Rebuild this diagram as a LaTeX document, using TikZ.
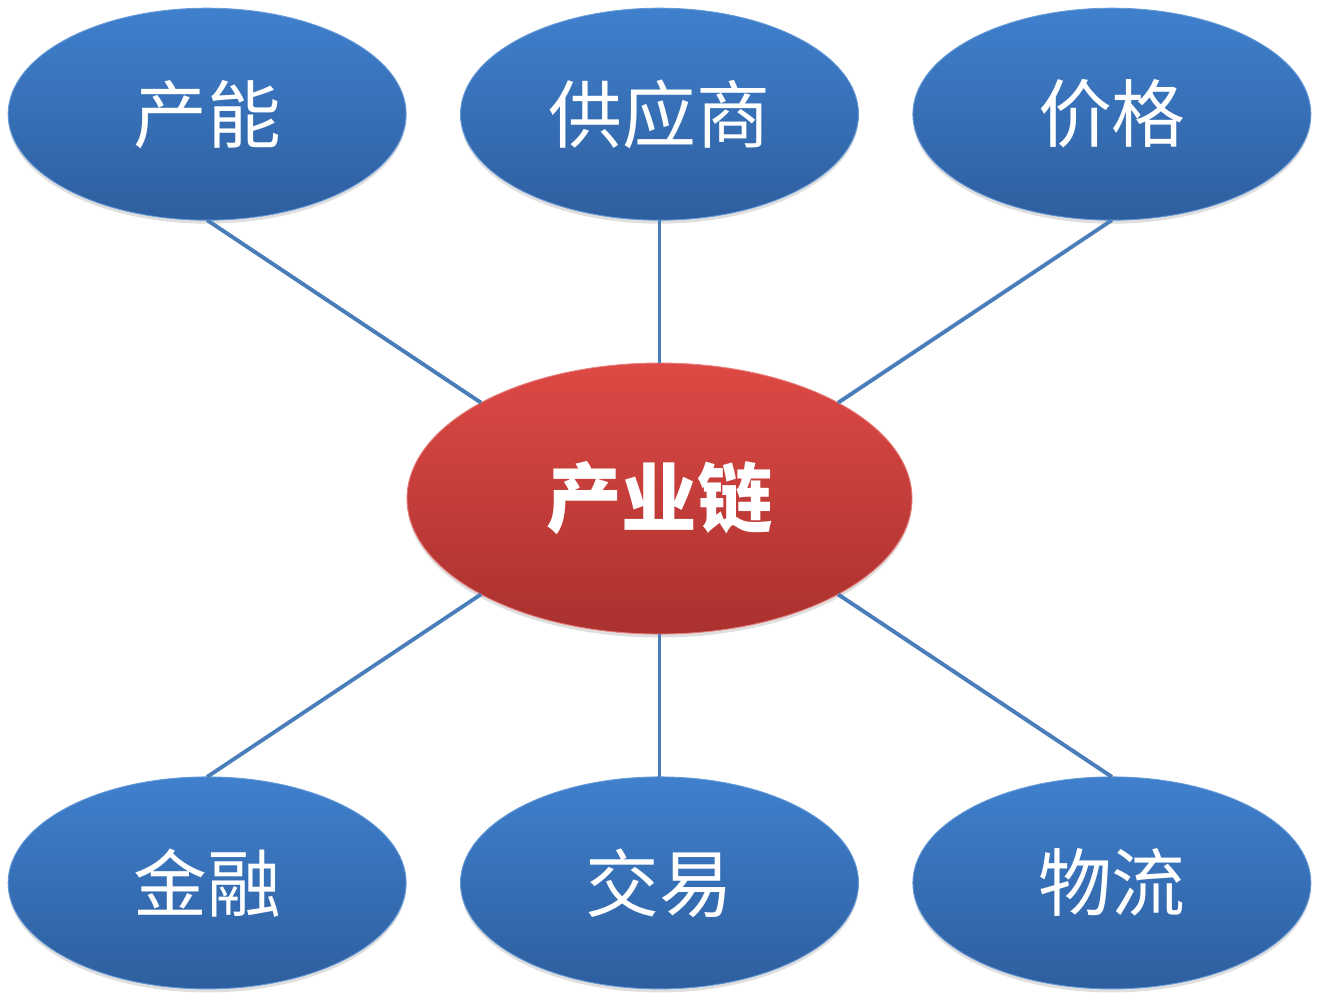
\documentclass[tikz,border=0pt]{standalone}
\usepackage{fontspec}
\newfontfamily\cjk{Noto Sans CJK SC}
\usepackage{tikz}
\usetikzlibrary{matrix,shapes.geometric,shadows}
\definecolor{skytop}{HTML}{3F80CD}
\definecolor{skybot}{HTML}{2E5E9E}
\definecolor{redtop}{HTML}{DE4945}
\definecolor{redbot}{HTML}{A9312E}
\definecolor{linkblue}{HTML}{4A7EBB}

\begin{document}
\begin{tikzpicture}[
  outer/.style={ellipse, minimum width=7.96cm, minimum height=4.24cm, inner sep=0pt, outer sep=0pt,
    top color=skytop, bottom color=skybot, draw=skytop!80!white, line width=0.5pt,
    drop shadow={shadow xshift=0pt, shadow yshift=-2pt, opacity=0.25},
    text=white, font=\cjk\fontsize{42}{48}\selectfont},
  hub/.style={minimum width=10.1cm, minimum height=5.42cm,
    top color=redtop, bottom color=redbot, draw=redtop!70!white,
    font=\cjk\bfseries\fontsize{43}{48}\selectfont},
  link/.style={draw=linkblue, line width=2.2pt}
]
  \useasboundingbox (0,0) rectangle (26.34,-20.12);
  \matrix (m) at (0.03,-0.03) [matrix of nodes, matrix anchor=north west, row sep=2.84cm, column sep=0pt,
    nodes={outer, anchor=center}]
  {
    产能 & 供应商 & 价格 \\
         & |[hub]| 产业链 & \\
    金融 & 交易 & 物流 \\
  };
  \path[link]
  (m-1-1.south) edge (m-2-2.north west)
  (m-1-2.south) edge (m-2-2.north)
  (m-1-3.south) edge (m-2-2.north east)
  (m-3-1.north) edge (m-2-2.south west)
  (m-3-2.north) edge (m-2-2.south)
  (m-3-3.north) edge (m-2-2.south east);
\end{tikzpicture}
\end{document}
